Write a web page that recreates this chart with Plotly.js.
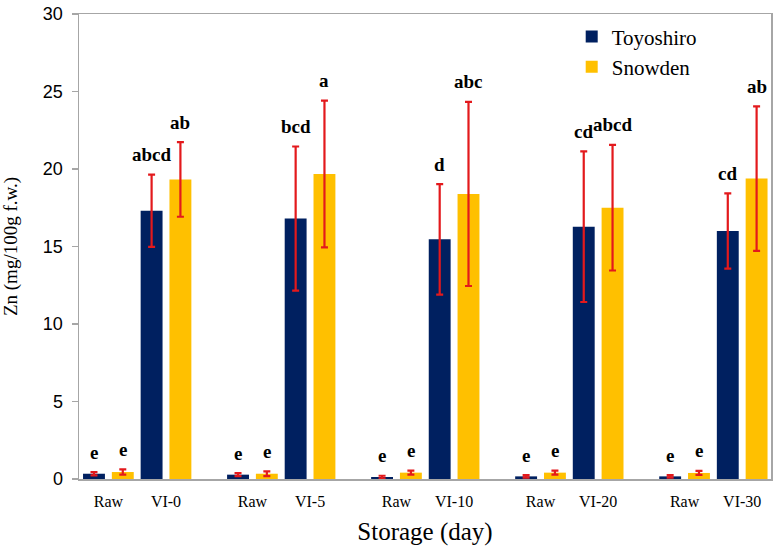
<!DOCTYPE html>
<html>
<head>
<meta charset="utf-8">
<script src="https://cdn.plot.ly/plotly-3.0.1.min.js"></script>
<style>html,body{margin:0;padding:0;background:#fff}#chart{width:773px;height:549px}</style>
</head>
<body>
<div id="chart"></div>
<script>
// Data
const tickLabels = ['Raw','VI-0','Raw','VI-5','Raw','VI-10','Raw','VI-20','Raw','VI-30'];
const toyoshiro = [0.34, 17.31, 0.28, 16.80, 0.13, 15.46, 0.17, 16.28, 0.17, 16.00];
const toyoshiroErr = [0.10, 2.33, 0.10, 4.65, 0.08, 3.57, 0.08, 4.86, 0.08, 2.43];
const snowden = [0.45, 19.33, 0.34, 19.68, 0.41, 18.39, 0.41, 17.50, 0.39, 19.38];
const snowdenErr = [0.17, 2.41, 0.15, 4.73, 0.13, 5.94, 0.13, 4.05, 0.13, 4.66];
const toyoshiroLetters = ['e','abcd','e','bcd','e','d','e','cd','e','cd'];
const snowdenLetters = ['e','ab','e','a','e','abc','e','abcd','e','ab'];

// Each storage pair (Raw, VI-x) is adjacent; pairs are separated by a wider gap
const pos = tickLabels.map((_, i) => Math.floor(i / 2) * 2.5 + (i % 2));

const navy = '#002060', gold = '#FFC000', red = '#E3191C';
const serif = 'Liberation Serif';

const traces = [
  {type:'bar', name:'Toyoshiro', x:pos, y:toyoshiro, marker:{color:navy},
   error_y:{type:'data', array:toyoshiroErr, visible:true, color:red, thickness:2.2, width:3.5}},
  {type:'bar', name:'Snowden', x:pos, y:snowden, marker:{color:gold},
   error_y:{type:'data', array:snowdenErr, visible:true, color:red, thickness:2.2, width:3.5}}
];

const letterFont = {family:serif, size:19, color:'#000', weight:'bold'};
const annotations = [];
pos.forEach((p, i) => {
  annotations.push({x:p-0.25, y:toyoshiro[i]+toyoshiroErr[i], xref:'x', yref:'y', text:toyoshiroLetters[i],
    showarrow:false, yanchor:'middle', yshift:20, font:letterFont});
  annotations.push({x:p+0.25, y:snowden[i]+snowdenErr[i], xref:'x', yref:'y', text:snowdenLetters[i],
    showarrow:false, yanchor:'middle', yshift:20, font:letterFont});
});

const layout = {
  width:773, height:549,
  margin:{l:79, r:2, t:14, b:70, pad:0},
  paper_bgcolor:'#fff', plot_bgcolor:'#fff',
  font:{family:serif, color:'#000'},
  barmode:'group', bargap:0, bargroupgap:0.24,
  showlegend:true,
  legend:{x:0.712, y:0.995, xanchor:'left', yanchor:'top', bgcolor:'rgba(0,0,0,0)',
    font:{family:serif, size:21, color:'#000'}, tracegroupgap:0},
  xaxis:{range:[-0.51, 11.5], tickmode:'array', tickvals:pos, ticktext:tickLabels,
    showgrid:false, zeroline:false, showline:true, linecolor:'#a6a6a6', linewidth:1.5, mirror:true,
    ticks:'', tickfont:{family:serif, size:16, color:'#000'}, ticklabelstandoff:7,
    title:{text:'Storage (day)', font:{family:serif, size:25, color:'#000'}, standoff:14}},
  yaxis:{range:[0, 30], dtick:5, showgrid:false, zeroline:false, showline:true, linecolor:'#a6a6a6',
    linewidth:1.5, mirror:true, ticks:'outside', ticklen:6, tickcolor:'#a6a6a6', tickwidth:1.5,
    ticklabelstandoff:5,
    tickfont:{family:'Liberation Sans', size:18, color:'#000'},
    title:{text:'Zn (mg/100g f.w.)', font:{family:serif, size:19, color:'#000'}, standoff:22}},
  annotations:annotations
};

Plotly.newPlot('chart', traces, layout, {displayModeBar:false, staticPlot:true});
</script>
</body>
</html>
